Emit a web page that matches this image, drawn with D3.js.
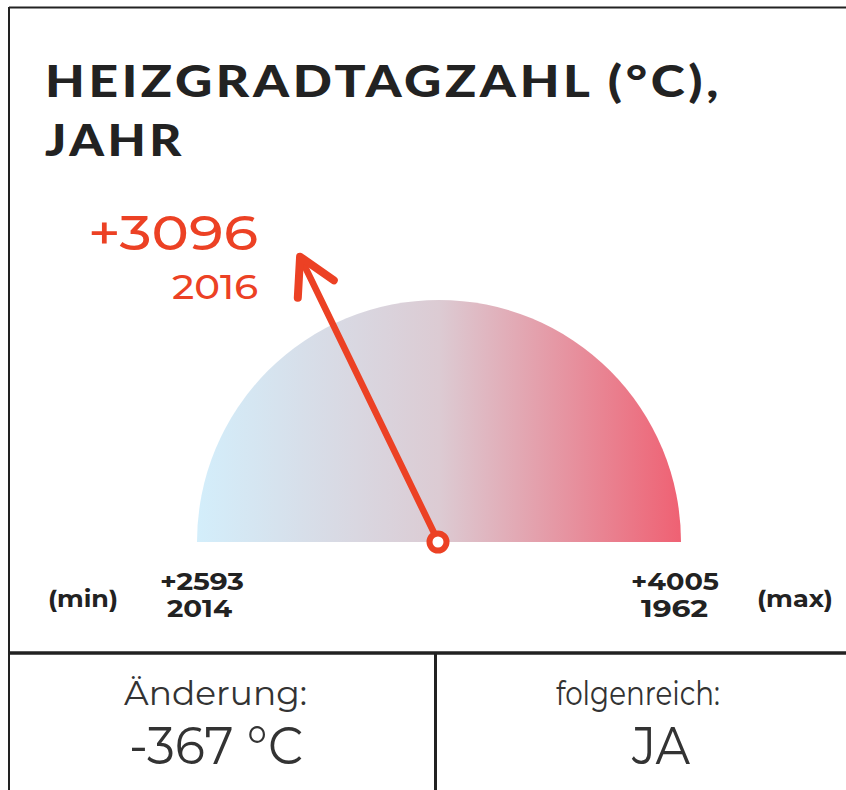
<!DOCTYPE html>
<html><head><meta charset="utf-8">
<script src="https://cdn.jsdelivr.net/npm/d3@7"></script>
<style>
html,body{margin:0;padding:0;background:#fff;}
svg{display:block;}
</style></head>
<body>
<svg id="chart" width="846" height="790"></svg>
<script>
const titleLines = ["HEIZGRADTAGZAHL (°C),", "JAHR"];
const minValue = 2593, minYear = "2014";
const maxValue = 4005, maxYear = "1962";
const currentValue = 3096, currentYear = "2016";
const changeLabel = "Änderung:", changeValue = "-367 °C";
const impactLabel = "folgenreich:", impactValue = "JA";
const gradientStops = ["#d3eefb", "#dccbd3", "#ef6173"];

const svg = d3.select("#chart");
const red = "#ec4124";
const ink = "#222";
const font = "Montserrat, 'Open Sans', Lato, sans-serif";

// borders
svg.append("line").attr("x1",9).attr("x2",846).attr("y1",7.5).attr("y2",7.5).attr("stroke",ink).attr("stroke-width",2);
svg.append("line").attr("x1",9).attr("x2",9).attr("y1",7).attr("y2",790).attr("stroke",ink).attr("stroke-width",2);
svg.append("line").attr("x1",9).attr("x2",846).attr("y1",653).attr("y2",653).attr("stroke",ink).attr("stroke-width",3.5);
svg.append("line").attr("x1",435.5).attr("x2",435.5).attr("y1",653).attr("y2",790).attr("stroke",ink).attr("stroke-width",3);

// title
const titleWidths = [677, 140];
svg.append("g").selectAll("text").data(titleLines).join("text")
  .attr("x",45).attr("y",(d,i)=>97+i*59)
  .attr("font-family","Lato, sans-serif").attr("font-weight",900)
  .attr("font-size",43).attr("letter-spacing",3).attr("fill",ink)
  .attr("textLength",(d,i)=>titleWidths[i]).attr("lengthAdjust","spacingAndGlyphs")
  .text(d=>d);

// gauge
const cx = 439, cy = 542, R = 242;
const defs = svg.append("defs");
const grad = defs.append("linearGradient").attr("id","g").attr("x1","0%").attr("x2","100%");
grad.selectAll("stop").data(gradientStops).join("stop")
  .attr("offset",(d,i)=>(i/(gradientStops.length-1)*100)+"%").attr("stop-color",d=>d);

const arc = d3.arc().innerRadius(0).outerRadius(R).startAngle(-Math.PI/2).endAngle(Math.PI/2);
svg.append("path").attr("d",arc()).attr("transform",`translate(${cx},${cy})`).attr("fill","url(#g)");

// needle
const angle = d3.scaleLinear().domain([minValue,maxValue]).range([-90,90]);
const L = 316;
const needle = svg.append("g").attr("transform",`translate(${cx-1},${cy-1}) rotate(${angle(currentValue)})`)
  .attr("stroke",red).attr("fill","none").attr("stroke-linecap","round").attr("stroke-linejoin","round");
needle.append("line").attr("x1",0).attr("y1",0).attr("x2",0).attr("y2",-L+4).attr("stroke-width",6.5);
needle.append("path").attr("d",`M${-20},${-L+36} L0,${-L} L${20},${-L+36}`).attr("stroke-width",8);
svg.append("circle").attr("cx",cx-1).attr("cy",cy).attr("r",8.5).attr("fill","#fff").attr("stroke",red).attr("stroke-width",6);

// current value label
svg.append("text").attr("x",88).attr("y",250)
  .attr("font-family",font).attr("font-weight",500).attr("font-size",49).attr("fill",red)
  .attr("textLength",170).attr("lengthAdjust","spacingAndGlyphs").text("+"+currentValue);
svg.append("text").attr("x",172).attr("y",299)
  .attr("font-family",font).attr("font-weight",500).attr("font-size",34).attr("fill",red)
  .attr("textLength",86).attr("lengthAdjust","spacingAndGlyphs").text(currentYear);

// min / max labels
const side = [
  {x:160, v:"+"+minValue, yx:167, y:minYear, w1:84, w2:65},
  {x:631, v:"+"+maxValue, yx:641, y:maxYear, w1:88, w2:67}
];
const sg = svg.append("g").attr("font-family",font).attr("font-weight",700).attr("font-size",23).attr("fill",ink);
side.forEach(s=>{
  sg.append("text").attr("x",s.x).attr("y",590).attr("textLength",s.w1).attr("lengthAdjust","spacingAndGlyphs").text(s.v);
  sg.append("text").attr("x",s.yx).attr("y",617).attr("textLength",s.w2).attr("lengthAdjust","spacingAndGlyphs").text(s.y);
});
sg.append("text").attr("x",48).attr("y",607).attr("textLength",70).attr("lengthAdjust","spacingAndGlyphs").text("(min)");
sg.append("text").attr("x",757).attr("y",607).attr("textLength",76).attr("lengthAdjust","spacingAndGlyphs").text("(max)");

// bottom panels
const bottom = [
  {x:124, y:705, s:33, w:183, t:changeLabel},
  {x:129, y:764, s:52, w:174, t:changeValue},
  {x:556, y:705, s:33, w:164, t:impactLabel},
  {x:632, y:764, s:52, w:58, t:impactValue}
];
svg.append("g").selectAll("text").data(bottom).join("text")
  .attr("x",d=>d.x).attr("y",d=>d.y).attr("font-size",d=>d.s)
  .attr("font-family",font).attr("font-weight",400).attr("fill","#333")
  .attr("textLength",d=>d.w).attr("lengthAdjust","spacingAndGlyphs")
  .text(d=>d.t);
</script>
</body></html>
